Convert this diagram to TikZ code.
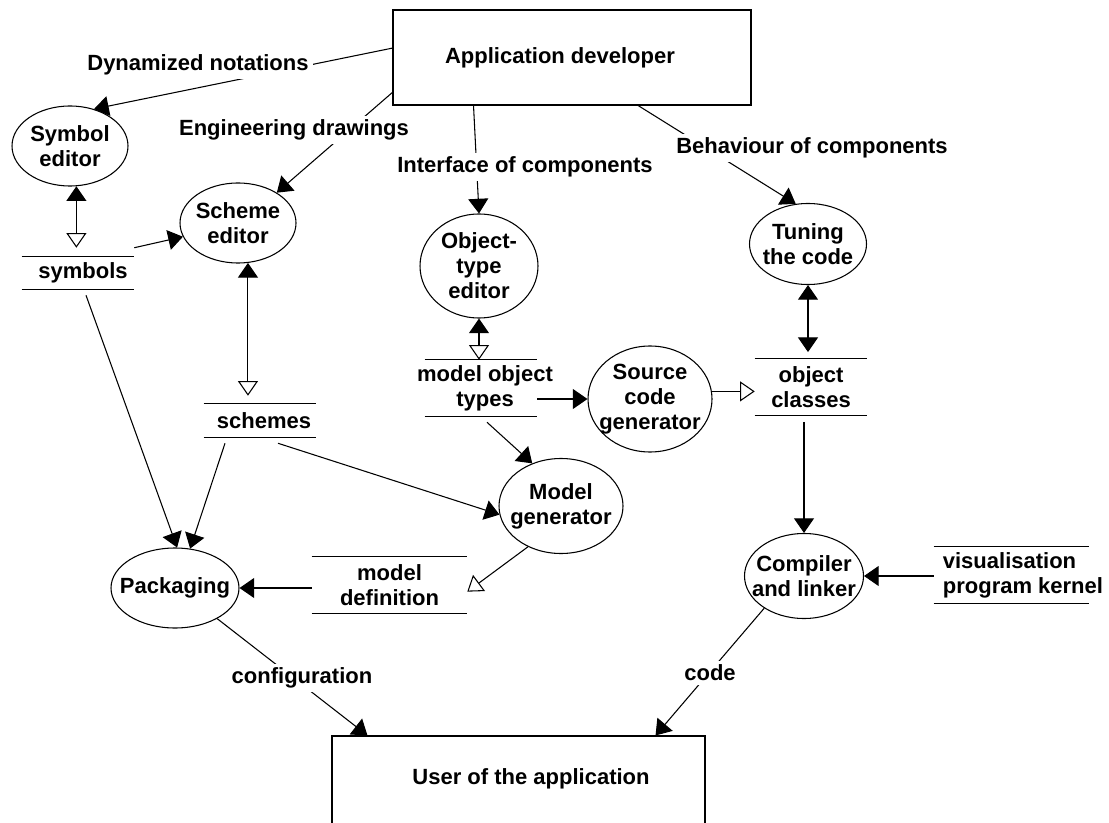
\documentclass[tikz,border=0pt]{standalone}
\usepackage{fontspec}
\setmainfont{Liberation Sans}
\usetikzlibrary{arrows.meta,shapes.geometric}
\newcommand\pxu{0.75pt}
\begin{document}
\begin{tikzpicture}[x=0.75pt,y=-0.75pt,
  every node/.style={font=\bfseries\fontsize{16.5pt}{18.75pt}\selectfont, align=center},
  conn/.style={line width=0.8pt},
  proc/.style={ellipse, draw, line width=0.8pt, inner sep=0pt},
  actor/.style={rectangle, draw, line width=0.8pt, inner sep=0pt},
  store/.style={rectangle, inner sep=0pt},
  tag/.style={fill=white, inner sep=3pt},
  flow/.style={conn, -{Triangle[length=11pt,width=15pt]}},
  oflow/.style={conn, -{Triangle[open,length=11pt,width=15pt]}},
  rw/.style={conn, {Triangle[length=11pt,width=15pt]}-{Triangle[open,length=11pt,width=15pt]}},
  both/.style={conn, {Triangle[length=11pt,width=15pt]}-{Triangle[length=11pt,width=15pt]}}]
\clip (0,0) rectangle (1109,823);
\fill[white] (0,0) rectangle (1109,823);

% external entities
\node[actor, minimum width=358*\pxu, minimum height=95*\pxu,
  label={[xshift=-9pt]center:Application developer}] (dev) at (572,57.5) {};
\node[actor, minimum width=373*\pxu, minimum height=94*\pxu,
  label={[xshift=9.4pt,yshift=3pt]center:User of the application}] (user) at (518.5,783) {};

% processes
\node[proc, minimum width=116*\pxu, minimum height=80*\pxu, label={center:Symbol\\editor}] (symed) at (70,146) {};
\node[proc, minimum width=116*\pxu, minimum height=80*\pxu, label={center:Scheme\\editor}] (schemed) at (238,223) {};
\node[proc, minimum width=118*\pxu, minimum height=104*\pxu, label={center:Object-\\type\\editor}] (objed) at (479,266) {};
\node[proc, minimum width=117*\pxu, minimum height=81*\pxu, label={center:Tuning\\the code}] (tuning) at (808,244) {};
\node[proc, minimum width=124*\pxu, minimum height=106*\pxu, label={center:Source\\code\\generator}] (srcgen) at (650,399) {};
\node[proc, minimum width=124*\pxu, minimum height=95*\pxu, label={center:Model\\generator}] (modgen) at (561,506) {};
\node[proc, minimum width=128*\pxu, minimum height=80*\pxu, label={center:Packaging}] (pack) at (175,588) {};
\node[proc, minimum width=119*\pxu, minimum height=85*\pxu, label={center:Compiler\\and linker}] (comp) at (804,576) {};

% data stores
\node[store, minimum width=112*\pxu, minimum height=32*\pxu, label={[xshift=3.75pt]center:symbols}] (symbols) at (78,273) {};
\node[store, minimum width=112*\pxu, minimum height=33*\pxu, label={[xshift=3pt]center:schemes}] (schemes) at (260,420.5) {};
\node[store, minimum width=112*\pxu, minimum height=56*\pxu, label={[xshift=3pt]center:model object\\types}] (modobj) at (481,388) {};
\node[store, minimum width=112*\pxu, minimum height=56*\pxu, label={center:object\\classes}] (objcls) at (811,387) {};
\node[store, minimum width=155*\pxu, minimum height=56*\pxu, label={center:model\\definition}] (moddef) at (389.5,585) {};
\node[store, minimum width=155*\pxu, minimum height=56*\pxu, label={[align=left,xshift=8.6pt]center:visualisation\\program kernel}] (viskern) at (1011.5,575) {};
\foreach \s in {symbols,schemes,modobj,objcls,moddef,viskern}
  \draw[conn] (\s.north west) -- (\s.north east) (\s.south west) -- (\s.south east);

% data flows
\draw[flow] (dev.177) -- (symed.57);
\draw[flow] (dev.191) -- (schemed.38);
\draw[flow] (dev.206) -- (objed.north);
\draw[flow] (dev.-36) -- (tuning.107);
\draw[rw, shorten >=6.75pt] (symed.-81) -- (symed.-81 |- symbols.north);
\draw[flow] ([yshift=6.75pt]symbols.north east) -- (schemed.194);
\draw[flow] ([shift={(8,6)}]symbols.south) -- (pack.87);
\draw[rw, shorten >=6pt] (schemed.-76) -- (schemed.-76 |- schemes.north);
\draw[flow] ([shift={(-35,6)}]schemes.south) -- (pack.69);
\draw[flow] ([shift={(18,6)}]schemes.south) -- (modgen.188);
\draw[rw] (objed.south) -- (objed.south |- modobj.north);
\draw[flow] (modobj.east |- srcgen.west) -- (srcgen.west);
\draw[oflow] (srcgen.7) -- (srcgen.7 -| objcls.west);
\draw[both, shorten >=5pt] (tuning.south) -- (tuning.south |- objcls.north);
\draw[flow] ([shift={(6,6)}]modobj.south) -- (modgen.124);
\draw[oflow] (modgen.231) -- ([yshift=-5pt]moddef.east);
\draw[flow] (moddef.west |- pack.east) -- (pack.east);
\draw[flow] ([yshift=-5pt]objcls.south -| comp.north) -- (comp.north);
\draw[flow] (viskern.west |- comp.east) -- (comp.east);
\coordinate (u1) at ([xshift=27pt]user.north west);
\coordinate (u2) at ([xshift=-37.5pt]user.north east);
\draw[flow] (pack.-36) -- (u1);
\draw[flow] (comp.-141) -- (u2);

% flow labels
\node[tag] (tDyn) at (198,65) {Dynamized notations};
\node[tag] (tEng) at (294,130) {Engineering drawings};
\node[tag] (tIfc) at (525,167) {Interface of components};
\node[tag] (tBeh) at (812,148) {Behaviour of components};
\node[tag] (tCfg) at (302,678) {configuration};
\node[tag] (tCode) at (710,673) {code};
\end{tikzpicture}
\end{document}
